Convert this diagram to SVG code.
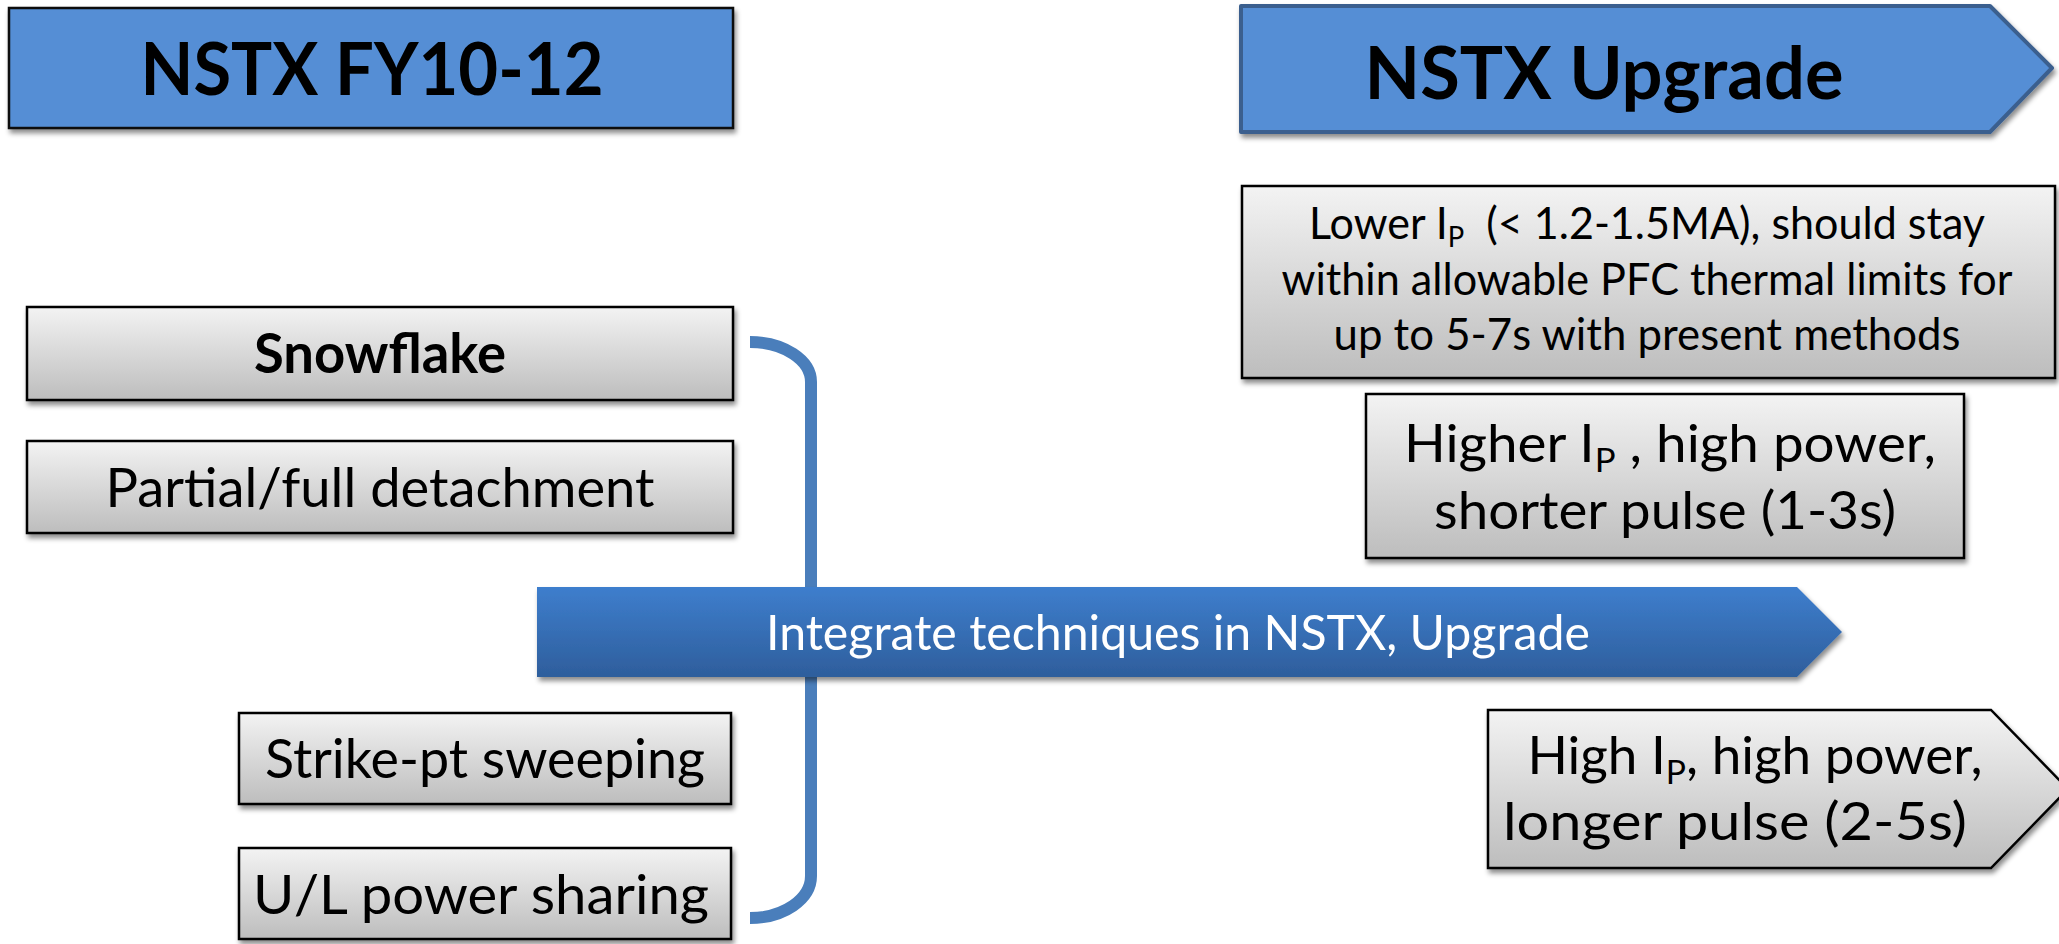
<svg xmlns="http://www.w3.org/2000/svg" width="2059" height="944" viewBox="0 0 2059 944">
<style>
.t{font-family:Lato,"Open Sans","Liberation Sans",sans-serif;fill:#000;text-anchor:middle}
.b{font-weight:bold}
.w{fill:#fff}
.gray{fill:url(#gg);stroke:#000;stroke-width:2.5}
.hdr{fill:#558ed5}
</style>
<defs>
<linearGradient id="gg" x1="0" y1="0" x2="0" y2="1">
<stop offset="0" stop-color="#f3f3f3"/>
<stop offset="1" stop-color="#bdbdbd"/>
</linearGradient>
<linearGradient id="bg" x1="0" y1="0" x2="0" y2="1">
<stop offset="0" stop-color="#3e7ecd"/>
<stop offset="1" stop-color="#2e5e9c"/>
</linearGradient>
<filter id="sh" x="-5%" y="-10%" width="112%" height="130%">
<feDropShadow dx="2" dy="4" stdDeviation="2.5" flood-color="#000" flood-opacity="0.45"/>
</filter>
</defs>

<g id="header-fy">
<rect x="9" y="8" width="724" height="120" class="hdr" stroke="#111" stroke-width="2.5" filter="url(#sh)"/>
<text class="t b" x="372" y="95" font-size="72" textLength="463" lengthAdjust="spacingAndGlyphs">NSTX FY10-12</text>
</g>

<g id="header-upgrade">
<path d="M1241,6 L1990,6 L2052,68 L1990,132 L1241,132 Z" class="hdr" stroke="#3b5f8e" stroke-width="4" stroke-linejoin="round" filter="url(#sh)"/>
<text class="t b" x="1604" y="99" font-size="72" textLength="479" lengthAdjust="spacingAndGlyphs">NSTX Upgrade</text>
</g>

<g id="connectors">
<path d="M750,342 A61,40 0 0 1 811,382 L811,876 A61,42 0 0 1 750,918" fill="none" stroke="#4a7ebb" stroke-width="12"/>
</g>

<g id="snowflake">
<rect x="27" y="307" width="706" height="93" class="gray" filter="url(#sh)"/>
<text class="t b" x="380" y="373" font-size="55" textLength="252" lengthAdjust="spacingAndGlyphs">Snowflake</text>
</g>

<g id="detachment">
<rect x="27" y="441" width="706" height="92" class="gray" filter="url(#sh)"/>
<text class="t" x="380" y="507" font-size="55" textLength="549" lengthAdjust="spacingAndGlyphs">Partial/full detachment</text>
</g>

<g id="strike">
<rect x="239" y="713" width="492" height="91" class="gray" filter="url(#sh)"/>
<text class="t" x="485" y="778" font-size="55" textLength="440" lengthAdjust="spacingAndGlyphs">Strike-pt sweeping</text>
</g>

<g id="ulpower">
<rect x="239" y="848" width="492" height="91" class="gray" filter="url(#sh)"/>
<text class="t" x="481" y="914" font-size="55" textLength="456" lengthAdjust="spacingAndGlyphs">U/L power sharing</text>
</g>

<g id="integrate">
<path d="M537,587 L1797,587 L1842,632 L1797,677 L537,677 Z" fill="url(#bg)" filter="url(#sh)"/>
<text class="t w" x="1178" y="650" font-size="48" textLength="824" lengthAdjust="spacingAndGlyphs">Integrate techniques in NSTX, Upgrade</text>
</g>

<g id="lower-ip">
<rect x="1242" y="186" width="813" height="192" class="gray" filter="url(#sh)"/>
<text class="t" x="1647" y="239" font-size="44" style="white-space:pre" textLength="676" lengthAdjust="spacingAndGlyphs">Lower I<tspan font-size="28" dy="8">P</tspan><tspan dy="-8">  (&lt; 1.2-1.5MA), should stay</tspan></text>
<text class="t" x="1647" y="295" font-size="44" textLength="731" lengthAdjust="spacingAndGlyphs">within allowable PFC thermal limits for</text>
<text class="t" x="1647" y="350" font-size="44" textLength="627" lengthAdjust="spacingAndGlyphs">up to 5-7s with present methods</text>
</g>

<g id="higher-ip">
<rect x="1366" y="394" width="598" height="164" class="gray" filter="url(#sh)"/>
<text class="t" x="1670" y="462" font-size="52" style="white-space:pre" textLength="532" lengthAdjust="spacingAndGlyphs">Higher I<tspan font-size="33" dy="10">P</tspan><tspan dy="-10"> , high power,</tspan></text>
<text class="t" x="1665" y="529" font-size="52" textLength="462" lengthAdjust="spacingAndGlyphs">shorter pulse (1-3s)</text>
</g>

<g id="high-ip">
<path d="M1488,710 L1991,710 L2068,789 L1991,868 L1488,868 Z" class="gray" filter="url(#sh)"/>
<text class="t" x="1755" y="774" font-size="52" textLength="455" lengthAdjust="spacingAndGlyphs">High I<tspan font-size="33" dy="10">P</tspan><tspan dy="-10">, high power,</tspan></text>
<text class="t" x="1735" y="840" font-size="52" textLength="464" lengthAdjust="spacingAndGlyphs">longer pulse (2-5s)</text>
</g>
</svg>
